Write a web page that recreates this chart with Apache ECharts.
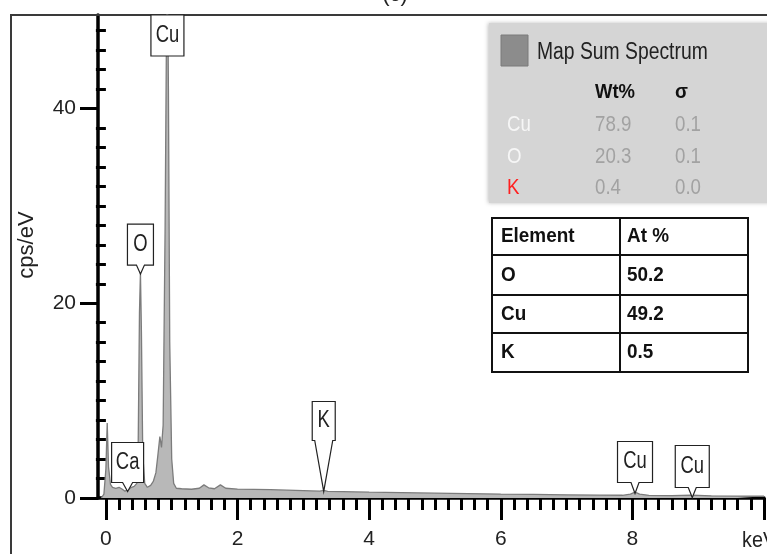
<!DOCTYPE html>
<html><head><meta charset="utf-8">
<script src="https://cdn.jsdelivr.net/npm/echarts@6/dist/echarts.min.js"></script>
<style>html,body{margin:0;padding:0;background:#fff}#c{width:767px;height:554px}</style>
</head><body><div id="c"></div>
<script>
// ---- data ----
const keV = [-0.07,-0.03,0.00,0.02,0.04,0.07,0.10,0.15,0.20,0.25,0.29,0.32,0.35,0.39,0.43,0.47,0.49,0.51,0.525,0.54,0.56,0.59,0.63,0.68,0.72,0.76,0.79,0.82,0.845,0.87,0.90,0.925,0.935,0.95,0.97,1.00,1.03,1.07,1.15,1.30,1.42,1.49,1.56,1.65,1.74,1.82,2.0,2.5,3.0,3.25,3.31,3.37,3.6,4.0,4.5,5.0,5.5,6.0,6.5,7.0,7.5,7.85,7.97,8.04,8.11,8.25,8.6,8.9,9.2,9.6,10.0];
const cps = [0,0.4,3.0,7.7,3.2,1.4,1.1,1.0,1.1,0.9,0.7,0.6,0.9,1.1,1.2,1.5,5,19,23.2,17,4.5,1.5,1.1,1.3,1.7,2.6,4.4,6.3,5.2,7.5,28,52,56,42,16,4,1.5,1.0,0.95,0.9,1.0,1.35,1.05,0.95,1.35,1.0,0.92,0.85,0.75,0.7,0.78,0.68,0.65,0.6,0.55,0.5,0.45,0.4,0.37,0.33,0.3,0.28,0.4,0.6,0.4,0.27,0.25,0.3,0.22,0.2,0.18];
const xMajorTicks = [0,2,4,6,8,10];
const xTickLabels = ['0','2','4','6','8',''];
const yMajorTicks = [0,20,40];
const yTickLabels = ['0','20','40'];
const xUnit = 'keV';
const yUnit = 'cps/eV';
const title = '(c)';
const peakNames = ['Cu','Ca','O','K','Cu','Cu'];
const peakKeV  = [0.935,0.33,0.525,3.31,8.04,8.91];
const peakCps  = [56,0.67,23.0,0.67,0.46,0.05];
const legendName = 'Map Sum Spectrum';
const wtElements = ['Cu','O','K'];
const wtValues = ['78.9','20.3','0.4'];
const wtSigma = ['0.1','0.1','0.0'];
const atHeader = ['Element','At %'];
const atElements = ['O','Cu','K'];
const atValues = ['50.2','49.2','0.5'];

// ---- layout / style ----
const X_MIN = -0.12, X_MAX = 10, Y_MIN = 0, Y_MAX = 49.6;
const REG = "'Liberation Sans',Arial,sans-serif";
// callout shapes: [boxW, boxH, pointerLen, pointerHalfW]
const calloutShape = [[33,41,0,0],[32,40,9,5],[26,41,9,4],[23,39,51,9],[35,41,11,4],[34,42,10,4]];

const xMinor = [], yMinor = [];
for (let i = 1; i < 50; i++) { if (i % 10) xMinor.push(+(i * 0.2).toFixed(2)); }
for (let i = 1; i < 25; i++) { if (i % 10) yMinor.push(i * 2); }

const seriesData = keV.map((k, i) => [k, cps[i]]);
const peakData = peakNames.map((n, i) => [peakKeV[i], peakCps[i]]);

const chart = echarts.init(document.getElementById('c'));

const graphics = [];
function txt(x, y, text, font, fill, sx, z) {
  graphics.push({ type: 'text', z: z || 6, x: x, y: y, scaleX: sx || 1,
    style: { text: text, font: font, fill: fill, textAlign: 'left', textVerticalAlign: 'middle' } });
}
// outer frame
graphics.push({ type: 'rect', z: 1, shape: { x: 11, y: 15, width: 820, height: 620 }, style: { fill: 'none', stroke: '#3a3a3a', lineWidth: 2 } });
// title (cut off at top)
graphics.push({ type: 'text', x: 395, y: 6, style: { text: title, font: '22px ' + REG, fill: '#222', textAlign: 'center', textVerticalAlign: 'bottom' } });
// y unit
graphics.push({ type: 'text', x: 27, y: 245, rotation: Math.PI / 2, style: { text: yUnit, font: '22px ' + REG, fill: '#222', textAlign: 'center', textVerticalAlign: 'middle' } });
// x unit
txt(742, 541, xUnit, '22px ' + REG, '#222', 0.9, 3);
// legend panel
graphics.push({ type: 'rect', z: 5, shape: { x: 489, y: 23, width: 300, height: 180 }, style: { fill: '#d5d5d5', shadowBlur: 4, shadowColor: 'rgba(0,0,0,0.25)', shadowOffsetX: -1 } });
graphics.push({ type: 'rect', z: 6, shape: { x: 501, y: 35, width: 27, height: 31 }, style: { fill: '#8c8c8c', stroke: '#7a7a7a', lineWidth: 1 } });
txt(537, 53, legendName, '23px ' + REG, '#222', 0.84);
txt(595, 92, 'Wt%', 'bold 21px ' + REG, '#111', 0.88);
txt(675, 92, 'σ', 'bold 21px ' + REG, '#111', 0.9);
const wtColors = ['#f6f6f6', '#f6f6f6', '#ff2020'];
const rowY = [125, 157, 188];
wtElements.forEach((e, i) => {
  txt(507, rowY[i], e, '22px ' + REG, wtColors[i], 0.85);
  txt(595, rowY[i], wtValues[i], '22px ' + REG, '#a2a2a2', 0.85);
  txt(675, rowY[i], wtSigma[i], '22px ' + REG, '#a2a2a2', 0.85);
});
// At% table
const tX = 492, tY = 218, tW = 256, tH = 154, colX = 620, rowLines = [255, 295, 333];
graphics.push({ type: 'rect', z: 5, shape: { x: tX, y: tY, width: tW, height: tH }, style: { fill: '#fff', stroke: '#111', lineWidth: 2 } });
graphics.push({ type: 'line', z: 6, shape: { x1: colX, y1: tY, x2: colX, y2: tY + tH }, style: { stroke: '#111', lineWidth: 2 } });
rowLines.forEach(y => graphics.push({ type: 'line', z: 6, shape: { x1: tX, y1: y, x2: tX + tW, y2: y }, style: { stroke: '#111', lineWidth: 2 } }));
const tRowY = [236, 275, 314, 352];
const col1 = [atHeader[0]].concat(atElements), col2 = [atHeader[1]].concat(atValues);
col1.forEach((t, i) => {
  txt(501, tRowY[i], t, 'bold 21px ' + REG, '#111', 0.9, 7);
  txt(627, tRowY[i], col2[i], 'bold 21px ' + REG, '#111', 0.9, 7);
});

const tickStyle = { color: '#000', width: 3 };
chart.setOption({
  animation: false,
  grid: { left: 98, right: -1, top: 15, bottom: 56 },
  xAxis: [
    { type: 'value', min: X_MIN, max: X_MAX, position: 'bottom',
      axisLine: { show: true, onZero: false, lineStyle: { color: '#000', width: 3.5 } },
      axisTick: { show: true, customValues: xMajorTicks, length: 22, lineStyle: tickStyle },
      axisLabel: { show: true, customValues: xMajorTicks, margin: 31, fontSize: 21, fontFamily: REG, color: '#222',
                   formatter: v => xTickLabels[xMajorTicks.indexOf(v)] ?? '' },
      splitLine: { show: false } },
    { type: 'value', min: X_MIN, max: X_MAX, position: 'bottom',
      axisLine: { show: false },
      axisTick: { show: true, customValues: xMinor, length: 12, lineStyle: tickStyle },
      axisLabel: { show: false }, splitLine: { show: false } }
  ],
  yAxis: [
    { type: 'value', min: Y_MIN, max: Y_MAX, position: 'left',
      axisLine: { show: true, onZero: false, lineStyle: { color: '#000', width: 3.5 } },
      axisTick: { show: true, customValues: yMajorTicks, length: 18, lineStyle: tickStyle },
      axisLabel: { show: true, customValues: yMajorTicks, margin: 22, fontSize: 21, fontFamily: REG, color: '#222',
                   formatter: v => yTickLabels[yMajorTicks.indexOf(v)] ?? '' },
      splitLine: { show: false } },
    { type: 'value', min: Y_MIN, max: Y_MAX, position: 'left',
      axisLine: { show: false },
      axisTick: { show: true, customValues: yMinor, length: 10, lineStyle: tickStyle },
      axisLabel: { show: false }, splitLine: { show: false } }
  ],
  series: [{
    type: 'line', xAxisIndex: 0, yAxisIndex: 0, data: seriesData, symbol: 'none', smooth: false,
    lineStyle: { color: '#7c7c7c', width: 1.3 },
    areaStyle: { color: '#b8b8b8', opacity: 1 },
    clip: true, z: 2
  }, {
    type: 'custom', xAxisIndex: 0, yAxisIndex: 0, data: peakData, z: 4, clip: false,
    renderItem: (params, api) => {
      const i = params.dataIndex;
      const [w, h, p, hw] = calloutShape[i];
      const v = api.value(1);
      const clipped = v >= Y_MAX;
      const pt = api.coord([api.value(0), Math.min(v, Y_MAX)]);
      const cx = pt[0];
      let points, textY;
      if (clipped || p === 0) {
        const top = pt[1];
        points = [[cx - w / 2, top], [cx + w / 2, top], [cx + w / 2, top + h], [cx - w / 2, top + h]];
        textY = top + h / 2;
      } else {
        const tip = pt[1], bot = tip - p, top = bot - h;
        points = [[cx - w / 2, top], [cx + w / 2, top], [cx + w / 2, bot], [cx + hw, bot], [cx, tip], [cx - hw, bot], [cx - w / 2, bot]];
        textY = top + h / 2;
      }
      return { type: 'group', children: [
        { type: 'polygon', shape: { points: points }, style: { fill: '#fff', stroke: '#222', lineWidth: 1.2 } },
        { type: 'text', x: cx, y: textY, scaleX: 0.8, style: { text: peakNames[i], font: '23px ' + REG, fill: '#222', textAlign: 'center', textVerticalAlign: 'middle' } }
      ] };
    }
  }],
  graphic: graphics
});
</script></body></html>
